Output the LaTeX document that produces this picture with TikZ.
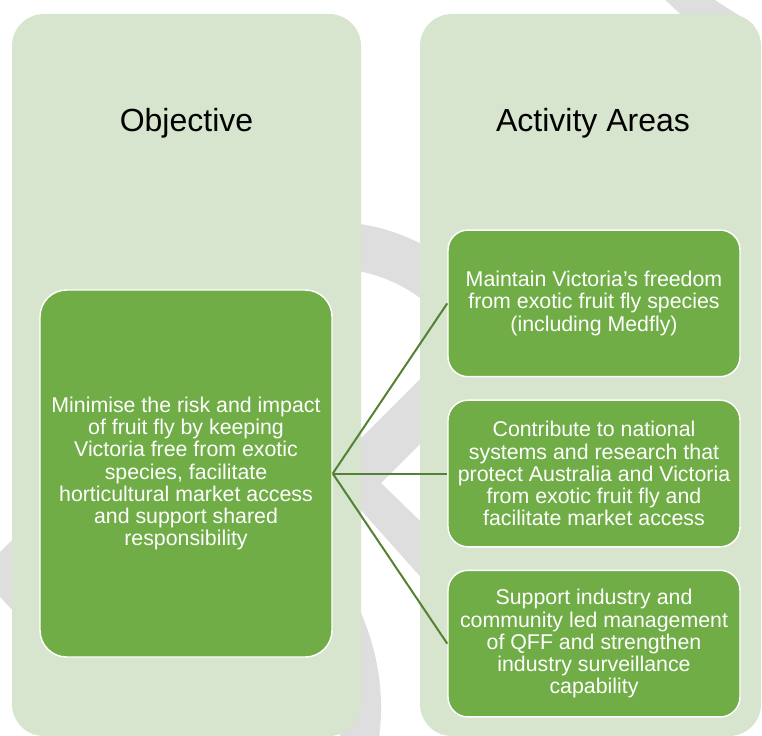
\documentclass[tikz,border=0pt]{standalone}
\usepackage{fontspec}
\setmainfont{Liberation Sans}
\usetikzlibrary{positioning}
\pgfdeclarelayer{bg}
\pgfsetlayers{bg,main}
\definecolor{panelgreen}{HTML}{D7E4CE}
\definecolor{boxgreen}{HTML}{70AD47}
\definecolor{linkgreen}{HTML}{548235}
\definecolor{markgrey}{HTML}{DEDEDE}
\def\titlefont{\fontsize{24}{28}\selectfont}
\def\boxfont{\fontsize{16}{16.6}\selectfont}
\tikzset{
  panel/.style={fill=panelgreen,rounded corners=24pt,minimum height=541.5pt,inner sep=0},
  title/.style={font=\titlefont,text=black},
  greenbox/.style={fill=boxgreen,draw=white,line width=1.1pt,text=white,font=\boxfont,
    align=center,minimum width=219pt,inner sep=0},
  link/.style={draw=linkgreen,line width=1.5pt},
  wmark/.style={fill=markgrey}
}

\begin{document}
\begin{tikzpicture}[x=0.75pt,y=-0.75pt]
\useasboundingbox (0,0) rectangle (762,735);

\begin{pgfonlayer}{bg}
  % watermark pieces showing between the panels
  \begin{scope}
    \clip (0,0) rectangle (762,735);
    \draw[draw=markgrey,line width=35pt] (330,420) ++(-100:175) arc[start angle=-100,end angle=-45,radius=175];
    \fill[wmark] (450,349) -- (327,472) -- (450,610) -- (450,550) -- (381,483) -- (450,414) -- cycle;
    \fill[wmark] (-10,562) -- (15,537) -- (15,613) -- (-10,586) -- cycle;
    \fill[wmark] (340,600) -- (355,600) .. controls (375,640) and (387,690) .. (378,745) -- (340,745) -- cycle;
    \fill[wmark] (660,-5) -- (707,-5) -- (754,25) -- (692,25) -- cycle;
  \end{scope}
  \node[panel,minimum width=261.75pt] (obj) at (186.5,375) {};
  \node[panel,minimum width=255.75pt] (act) at (590.5,375) {};
\end{pgfonlayer}

\node[title] (objt) at (186.5,123) {Objective};
\node[title] (actt) at (593,123) {Activity Areas};

\node[greenbox,minimum height=275.25pt,rounded corners=20pt] (o) at (186,473.5)
{
  Minimise the risk and impact\\
  of fruit fly by keeping\\
  Victoria free from exotic\\
  species, facilitate\\
  horticultural market access\\
  and support shared\\
  responsibility
};

\node[greenbox,minimum height=110pt,rounded corners=15pt] (a2) at (594,473.5)
{
  Contribute to national\\
  systems and research that\\
  protect Australia and Victoria\\
  from exotic fruit fly and\\
  facilitate market access
};
\node[greenbox,minimum height=110pt,rounded corners=15pt,above=16.5pt of a2] (a1)
{
  Maintain Victoria’s freedom\\
  from exotic fruit fly species\\
  (including Medfly)
};
\node[greenbox,minimum height=110pt,rounded corners=15pt,below=16.5pt of a2] (a3)
{
  Support industry and\\
  community led management\\
  of QFF and strengthen\\
  industry surveillance\\
  capability
};

\foreach \i in {1,2,3}
  \draw[link] (o.east) -- (a\i.west);
\end{tikzpicture}
\end{document}
